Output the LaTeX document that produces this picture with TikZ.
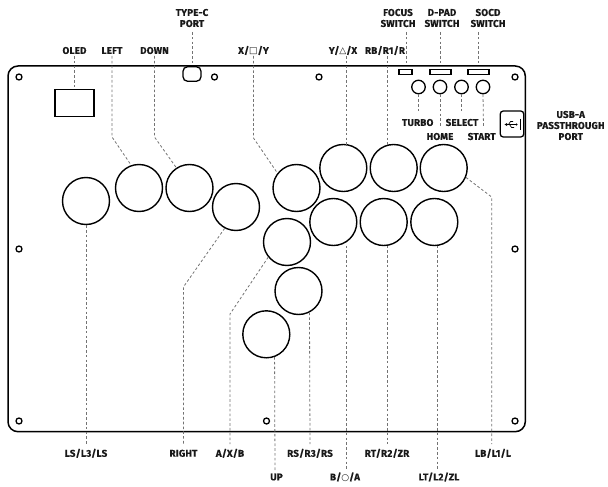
\documentclass[tikz,border=0pt]{standalone}
\usepackage{fontspec}
\setmainfont{Fira Sans}[LetterSpace=2,FakeBold=0.4]
\newfontfamily\symf{DejaVu Sans}
\newcommand{\sy}[1]{{\symf\mdseries\fontsize{9}{11}\selectfont #1}}
\tikzset{
 lbl/.style={font=\bfseries\fontsize{9.8}{11}\selectfont,inner sep=0pt,align=center,text=black!90},
 btn/.style={circle,draw,line width=1.4pt,minimum size=47pt,inner sep=0pt},
 small/.style={circle,draw,line width=1.3pt,minimum size=13.5pt,inner sep=0pt},
 hole/.style={circle,draw,line width=1.3pt,minimum size=6pt,inner sep=0pt},
 part/.style={draw,line width=1.3pt,inner sep=0pt},
 lead/.style={draw=black!55,line width=0.8pt,dash pattern=on 2.6pt off 2.2pt},
 board/.style={draw,line width=1.5pt,rounded corners=10pt},
}
\begin{document}
\begin{tikzpicture}[x=1pt,y=-1pt]
\useasboundingbox (0,0) rectangle (608,487);
\draw[board] (8,66) rectangle (525.3,431.7);
% holes
\foreach \n/\x/\y in {h1/19/77,h2/214.5/77,h3/319/77,h4/515/77,h5/19/249,h6/515/249,h7/19/421,h8/266.5/421,h9/515/421}
  \node[hole] (\n) at (\x,\y) {};
% buttons
\node[btn] (ls) at (86,201) {};
\node[btn] (left) at (139,188) {};
\node[btn] (down) at (189.5,188) {};
\node[btn] (right) at (236,207) {};
\node[btn] (x) at (296.5,188) {};
\node[btn] (y) at (343.3,168) {};
\node[btn] (rb) at (393.7,168) {};
\node[btn] (lb) at (443.7,168) {};
\node[btn] (a) at (287,242) {};
\node[btn] (b) at (333.3,222) {};
\node[btn] (rt) at (383.7,222) {};
\node[btn] (lt) at (434.3,222) {};
\node[btn] (rs) at (298.5,291) {};
\node[btn] (up) at (266.3,334.3) {};
% small buttons
\node[small] (turbo) at (418.5,87) {};
\node[small] (home) at (440,87) {};
\node[small] (select) at (461.5,87) {};
\node[small] (start) at (483,87) {};
% parts
\node[part,minimum width=39pt,minimum height=27pt] (oled) at (74.5,103) {};
\node[part,rounded corners=4.5pt,minimum width=18pt,minimum height=14.5pt] (typec) at (192,74) {};
\node[part,minimum width=13pt,minimum height=5pt] (focus) at (405.5,72) {};
\node[part,minimum width=21pt,minimum height=5pt] (dpad) at (440.5,72) {};
\node[part,minimum width=21pt,minimum height=5pt] (socd) at (478.5,72) {};
\node[part,rounded corners=3pt,minimum width=23.5pt,minimum height=26pt,fill=white] (usba) at (512,124) {};
% usb symbol
\draw[line width=0.7pt] (506,124.5) -- (516,124.5);
\draw[line width=0.7pt] (508.5,124.5) -- (510.5,121.5) -- (513,121.5) (509.5,124.5) -- (511.5,127.5) -- (514,127.5);
\fill (516.5,124.5) circle (1.1pt);
\fill (504.5,124.5) -- (507,123) -- (507,126) -- cycle;
\draw[line width=1.3pt] (520.5,118.5) -- (520.5,130);
% labels
\node[lbl] (Loled) at (74.5,50.5) {OLED};
\node[lbl] (Lleft) at (112,50.5) {LEFT};
\node[lbl] (Ldown) at (154.5,50.5) {DOWN};
\node[lbl] (Ltypec) at (192,18) {TYPE-C\\PORT};
\node[lbl] (Lx) at (253.5,50.5) {X/\sy{□}/Y};
\node[lbl] (Ly) at (343,50.5) {Y/\sy{△}/X};
\node[lbl] (Lrb) at (385,50.5) {RB/R1/R};
\node[lbl] (Lfocus) at (398,18) {FOCUS\\SWITCH};
\node[lbl] (Ldpad) at (442,18) {D-PAD\\SWITCH};
\node[lbl] (Lsocd) at (488,18) {SOCD\\SWITCH};
\node[lbl] (Lturbo) at (417.7,122.5) {TURBO};
\node[lbl] (Lselect) at (462,122.5) {SELECT};
\node[lbl] (Lhome) at (440,136.5) {HOME};
\node[lbl] (Lstart) at (481.7,136.5) {START};
\node[lbl] (Lusb) at (570.7,125.5) {USB-A\\PASSTHROUGH\\PORT};
\node[lbl] (Lls) at (86,453.3) {LS/L3/LS};
\node[lbl] (Lright) at (183.5,453.3) {RIGHT};
\node[lbl] (La) at (230,453.3) {A/X/B};
\node[lbl] (Lrs) at (310,453.3) {RS/R3/RS};
\node[lbl] (Lrt) at (387,453.3) {RT/R2/ZR};
\node[lbl] (Llb) at (493,453.3) {LB/L1/L};
\node[lbl] (Lup) at (276.5,477) {UP};
\node[lbl] (Lb) at (345,477) {B/\sy{○}/A};
\node[lbl] (Llt) at (439,477) {LT/L2/ZL};
% bends and free ends
\coordinate (bleft) at (112,137);
\coordinate (bdown) at (154.5,137);
\coordinate (bx) at (253.5,138);
\coordinate (blb) at (491.7,197);
\coordinate (bright) at (183.4,287);
\coordinate (ba) at (230,314);
% leaders
\draw[lead] (74.5,56) -- (oled.north);
\draw[lead] (112,56) -- (bleft) -- (left.109);
\draw[lead] (154.5,56) -- (bdown) -- (down.123);
\draw[lead] (192,32) -- (192,64);
\draw[lead] (253.5,56) -- (bx) -- (x.142);
\draw[lead] (346,56) -- (346,144.5);
\draw[lead] (387,56) -- (387,145);
\draw[lead] (406.5,32) -- (406.5,65);
\draw[lead] (440,32) -- (440,65);
\draw[lead] (478,32) -- (478,65);
\draw[lead] (turbo.south) -- (418.5,112);
\draw[lead] (home.south) -- (440,127);
\draw[lead] (select.south) -- (461.5,112);
\draw[lead] (start.south) -- (483.5,127);
\draw[lead] (lb.-23) -- (blb) -- (491.7,444);
\draw[lead] (ls.south) -- (86,444);
\draw[lead] (right.-118) -- (bright) -- (183.4,444);
\draw[lead] (a.-141) -- (ba) -- (230,444);
\draw[lead] (up.-70) -- (275,470);
\draw[lead] (rs.-63) -- (310,444);
\draw[lead] (346,245.5) -- (346,470);
\draw[lead] (387,245.5) -- (387,444);
\draw[lead] (437.5,245.5) -- (437.5,470);
\end{tikzpicture}
\end{document}
